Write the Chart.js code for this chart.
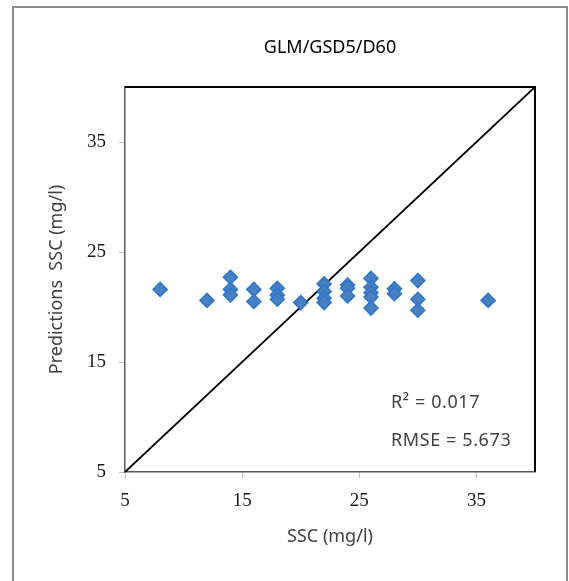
<!DOCTYPE html>
<html>
<head>
<meta charset="utf-8">
<script src="https://cdn.jsdelivr.net/npm/chart.js@4/dist/chart.umd.min.js"></script>
<style>
    html, body { margin: 0; padding: 0; background: #ffffff; }
    #box { position: relative; width: 569px; height: 581px; }
</style>
</head>
<body>
<div id="box"><canvas id="graph" width="569" height="581"></canvas></div>
<script>
let observedSSC = [8, 12, 14, 14, 14, 16, 16, 18, 18, 18, 20,
                   22, 22, 22, 22, 24, 24, 24, 26, 26, 26, 26, 26,
                   28, 28, 30, 30, 30, 36];
let predictedSSC = [21.6, 20.6, 22.7, 21.6, 21.1, 21.6, 20.5, 21.7, 21.1, 20.7, 20.4,
                    22.1, 21.4, 20.8, 20.4, 22.0, 21.7, 21.0, 22.6, 21.8, 21.3, 20.9, 19.9,
                    21.65, 21.2, 22.4, 20.7, 19.7, 20.6];

//1:1 line ends
let lineEnds = [5, 40];

//axis range and tick labels
let axisMin = 5;
let axisMax = 40;
let tickValues = [5, 15, 25, 35];

let chartTitle = "GLM/GSD5/D60";
let xTitle = "SSC (mg/l)";
let yTitle = "Predictions  SSC (mg/l)";
let statsText = ["R² = 0.017", "RMSE = 5.673"];

/**********/
function buildPoints(xs, ys)
{
    let points = [];

    for(let i=0; i<xs.length; i++)
    {
        points.push( { x: xs[i], y: ys[i] } );
    }

    return points;
}

/**********/
function setTicks(scale)
{
    scale.ticks = tickValues.map(function(v) { return { value: v }; });
}

//frame, top/right border and stats text
const extras =
{
    id: "extras",

    beforeDraw: function(chart)
    {
        let ctx = chart.ctx;
        ctx.save();
        ctx.fillStyle = "#ffffff";
        ctx.fillRect(0, 0, chart.width, chart.height);
        ctx.strokeStyle = "#8c8c8c";
        ctx.lineWidth = 2;
        ctx.strokeRect(13, 7, 554, 620);
        ctx.restore();
    },

    afterDraw: function(chart)
    {
        let ctx = chart.ctx;
        let area = chart.chartArea;

        ctx.save();
        ctx.strokeStyle = "#000000";
        ctx.lineWidth = 2;
        ctx.beginPath();
        ctx.moveTo(area.left, area.top);
        ctx.lineTo(area.right, area.top);
        ctx.lineTo(area.right, area.bottom);
        ctx.stroke();

        ctx.fillStyle = "#404040";
        ctx.font = "18px 'Noto Sans'";
        ctx.textBaseline = "alphabetic";
        ctx.letterSpacing = "0.6px";
        ctx.fillText(statsText[0], 391, 408);
        ctx.fillText(statsText[1], 391, 446);
        ctx.restore();
    }
};

const ctx = document.getElementById("graph");

window.graph = new Chart(ctx,
{
    type: "scatter",

    data:
    {
        datasets:
        [
            {
                label: "Predictions",
                data: buildPoints(observedSSC, predictedSSC),
                pointStyle: "rectRot",
                pointRadius: 7,
                pointHoverRadius: 7,
                pointBackgroundColor: "#4a7fc0",
                pointBorderColor: "#2d76cc",
                pointBorderWidth: 1.5,
                order: 1
            },
            {
                label: "1:1",
                type: "line",
                data: buildPoints(lineEnds, lineEnds),
                borderColor: "#000000",
                borderWidth: 1.8,
                pointRadius: 0,
                fill: false,
                order: 2
            }
        ]
    },

    options:
    {
        responsive: false,
        animation: false,
        events: [],
        layout: { padding: { left: 20, right: 34, top: 0, bottom: 0 } },

        plugins:
        {
            legend: { display: false },
            tooltip: { enabled: false },
            title:
            {
                display: true,
                text: chartTitle,
                fullSize: false,
                color: "#000000",
                font: { family: "'Noto Sans'", size: 18, weight: "normal", lineHeight: 1.2 },
                padding: { top: 37, bottom: 28.4 }
            }
        },

        scales:
        {
            x:
            {
                type: "linear",
                min: axisMin,
                max: axisMax,
                afterBuildTicks: setTicks,
                afterFit: function(scale) { scale.height = 109; },
                border: { display: true, color: "#595959", width: 1.5 },
                grid: { drawOnChartArea: false, drawTicks: true, tickLength: 6, color: "#bfbfbf" },
                ticks: { color: "#1a1a1a", padding: 12, maxRotation: 0, font: { family: "'Liberation Serif'", size: 19 } },
                title:
                {
                    display: true,
                    text: xTitle,
                    color: "#404040",
                    font: { family: "'Noto Sans'", size: 18, lineHeight: 1.2 },
                    padding: { top: 0, bottom: 33 }
                }
            },
            y:
            {
                type: "linear",
                min: axisMin,
                max: axisMax,
                afterBuildTicks: setTicks,
                afterFit: function(scale) { scale.width = 105; },
                border: { display: true, color: "#595959", width: 1.5 },
                grid: { drawOnChartArea: false, drawTicks: true, tickLength: 6, color: "#bfbfbf" },
                ticks: { color: "#1a1a1a", padding: 13, font: { family: "'Liberation Serif'", size: 19 } },
                title:
                {
                    display: true,
                    text: yTitle,
                    color: "#404040",
                    font: { family: "'Noto Sans'", size: 18, lineHeight: 1.2 },
                    padding: { top: 26, bottom: 0 }
                }
            }
        }
    },

    plugins: [extras]
});
</script>
</body>
</html>
